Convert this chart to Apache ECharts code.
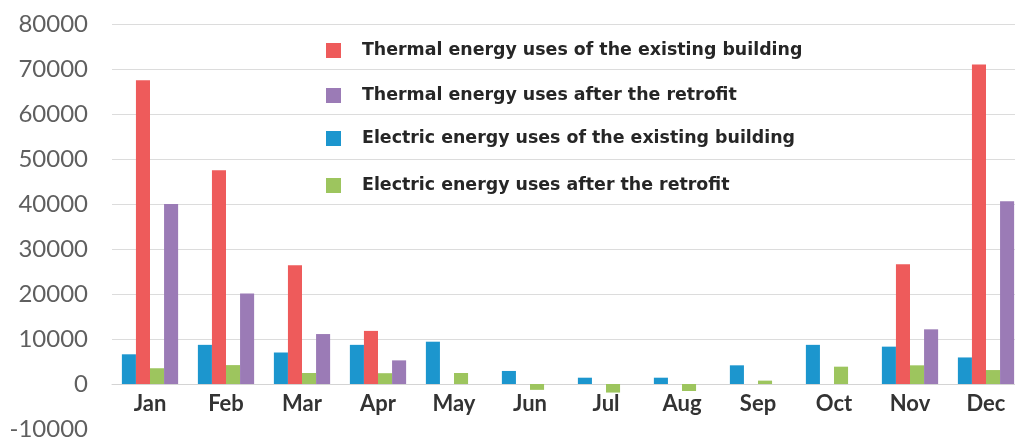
<!DOCTYPE html>
<html>
<head>
<meta charset="utf-8">
<script src="https://cdn.jsdelivr.net/npm/echarts@6/dist/echarts.min.js"></script>
<style>html,body{margin:0;padding:0;background:#fff;}#c{width:1015px;height:439px;}</style>
</head>
<body>
<div id="c"></div>
<script>
const months = ['Jan','Feb','Mar','Apr','May','Jun','Jul','Aug','Sep','Oct','Nov','Dec'];
const electricExisting = [6600, 8700, 7000, 8700, 9400, 2900, 1400, 1400, 4150, 8700, 8300, 5900];
const thermalExisting  = [67500, 47500, 26400, 11800, 0, 0, 0, 0, 0, 0, 26600, 71000];
const electricAfter    = [3500, 4200, 2450, 2400, 2450, -1300, -1900, -1550, 750, 3850, 4150, 3100];
const thermalAfter     = [40000, 20100, 11100, 5250, 0, 0, 0, 0, 0, 0, 12150, 40600];
const names = {
  te: 'Thermal energy uses of the existing building',
  ta: 'Thermal energy uses after the retrofit',
  ee: 'Electric energy uses of the existing building',
  ea: 'Electric energy uses after the retrofit'
};
const colors = { te: '#EE5B5B', ta: '#9B7BB6', ee: '#1C96CE', ea: '#9DC55E' };

const chart = echarts.init(document.getElementById('c'));
const legendText = { fontFamily: 'DejaVu Sans', fontWeight: 'bold', fontSize: 17.4, color: '#262626' };
function leg(name, top) {
  return { data: [name], left: 326, top: top, padding: 0, itemWidth: 15, itemHeight: 15, itemGap: 0,
    icon: 'rect', textStyle: Object.assign({ padding: [0, 0, 0, 16] }, legendText), selectedMode: false };
}
const splitColors = ['rgba(0,0,0,0)'].concat(Array(9).fill('#dcdcdc'));
chart.setOption({
  animation: false,
  backgroundColor: '#ffffff',
  grid: { left: 112, top: 24, width: 912, height: 405, containLabel: false, outerBoundsMode: 'none' },
  legend: [leg(names.te, 42), leg(names.ta, 87), leg(names.ee, 130), leg(names.ea, 177)],
  xAxis: {
    type: 'category', data: months,
    axisLine: { onZero: true, lineStyle: { color: '#d4d4d4', width: 1 } },
    axisTick: { show: false },
    axisLabel: { margin: -36, fontFamily: 'Lato', fontWeight: 'bold', fontSize: 22, color: '#333333' }
  },
  yAxis: {
    type: 'value', min: -10000, max: 80000, interval: 10000,
    axisLine: { show: false }, axisTick: { show: false },
    splitLine: { lineStyle: { color: splitColors, width: 1 } },
    axisLabel: { margin: 24, fontFamily: 'Lato', fontSize: 24, color: '#5f5f5f', formatter: function (v) { return String(v); } }
  },
  series: [
    { name: names.ee, type: 'bar', data: electricExisting, itemStyle: { color: colors.ee }, barGap: '0%', barCategoryGap: '26%' },
    { name: names.te, type: 'bar', data: thermalExisting, itemStyle: { color: colors.te }, barGap: '0%', barCategoryGap: '26%' },
    { name: names.ea, type: 'bar', data: electricAfter, itemStyle: { color: colors.ea }, barGap: '0%', barCategoryGap: '26%' },
    { name: names.ta, type: 'bar', data: thermalAfter, itemStyle: { color: colors.ta }, barGap: '0%', barCategoryGap: '26%' }
  ]
});
</script>
</body>
</html>
